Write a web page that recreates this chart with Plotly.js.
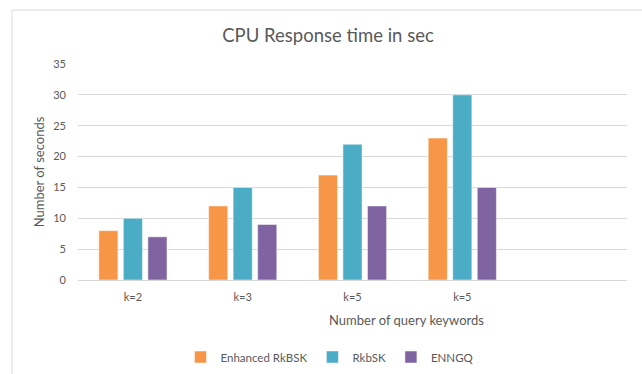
<!DOCTYPE html>
<html>
<head>
<meta charset="utf-8">
<script src="https://cdn.plot.ly/plotly-3.0.1.min.js"></script>
<style>
  html, body { margin: 0; padding: 0; background: #ffffff; }
  #chart { width: 642px; height: 374px; }
</style>
</head>
<body>
<div id="chart"></div>
<script>
// Data
const categories = ["k=2", "k=3", "k=5", "k=5"];
const positions = [0, 1, 2, 3];
const enhancedRkBSK = [8, 12, 17, 23];
const rkbSK = [10, 15, 22, 30];
const enngq = [7, 9, 12, 15];
const seriesNames = ["Enhanced RkBSK", "RkbSK", "ENNGQ"];
const seriesColors = ["#F79646", "#4BACC6", "#8064A2"];
const yTicks = [0, 5, 10, 15, 20, 25, 30, 35];

const FONT = "Lato, 'Open Sans', sans-serif";
const TXT = "#595959";

const seriesValues = [enhancedRkBSK, rkbSK, enngq];
const traces = seriesValues.map((vals, i) => ({
  type: "bar",
  x: positions,
  y: vals,
  name: seriesNames[i],
  marker: { color: seriesColors[i], line: { color: "#ffffff", width: 0.5 } },
  hoverinfo: "y+name"
}));

const layout = {
  width: 642,
  height: 374,
  margin: { l: 78, r: 15, t: 64, b: 94, pad: 0, autoexpand: false },
  paper_bgcolor: "#ffffff",
  plot_bgcolor: "#ffffff",
  font: { family: FONT, color: TXT, size: 11 },
  title: {
    text: "CPU Response time in sec",
    font: { family: FONT, size: 18.5, color: TXT },
    xref: "container", x: 328 / 642, xanchor: "center",
    yref: "container", y: 1 - 36 / 374, yanchor: "middle"
  },
  barmode: "group",
  bargap: 0.33,
  bargroupgap: 0.22,
  xaxis: {
    range: [-0.5, 4.5],
    tickmode: "array",
    tickvals: positions,
    ticktext: categories,
    showgrid: false,
    zeroline: false,
    showline: false,
    ticks: "",
    ticklabelstandoff: 9,
    tickfont: { family: FONT, size: 11, color: TXT },
    fixedrange: true
  },
  yaxis: {
    range: [0, 35],
    tickmode: "array",
    tickvals: yTicks,
    showgrid: true,
    gridcolor: "#D9D9D9",
    gridwidth: 1,
    zeroline: true,
    zerolinecolor: "#D9D9D9",
    zerolinewidth: 1,
    showline: false,
    ticks: "",
    ticklabelstandoff: 11,
    tickfont: { family: FONT, size: 11, color: TXT },
    title: { text: "Number of seconds", font: { family: FONT, size: 13, color: TXT }, standoff: 5 },
    fixedrange: true
  },
  showlegend: true,
  legend: {
    orientation: "h",
    xref: "container", x: 330 / 642, xanchor: "center",
    yref: "container", y: 1 - 357 / 374, yanchor: "middle",
    font: { family: FONT, size: 11.5, color: TXT },
    itemwidth: 30,
    traceorder: "normal"
  },
  annotations: [{
    text: "Number of query keywords",
    xref: "paper", yref: "paper",
    x: (406 - 78) / 549, y: -(320 - 280) / 216,
    xanchor: "center", yanchor: "middle",
    showarrow: false,
    font: { family: FONT, size: 13, color: TXT }
  }],
  shapes: [{
    type: "rect", xref: "paper", yref: "paper",
    x0: (12 - 78) / 549, x1: (650 - 78) / 549,
    y0: -0.6, y1: (280 - 10) / 216,
    line: { color: "#D9D9D9", width: 1 },
    fillcolor: "rgba(0,0,0,0)",
    layer: "below"
  }]
};

Plotly.newPlot("chart", traces, layout, { displayModeBar: false, staticPlot: true });
</script>
</body>
</html>
